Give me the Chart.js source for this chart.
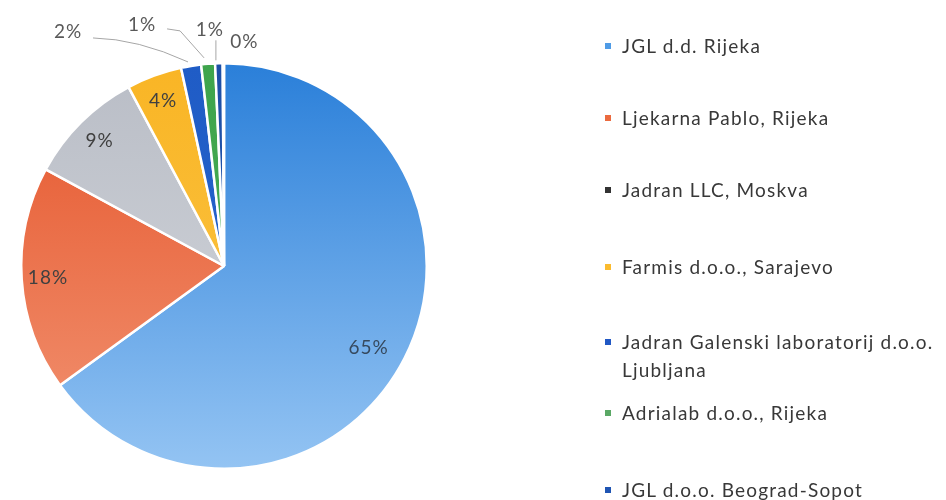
<!DOCTYPE html>
<html>
<head>
<meta charset="utf-8">
<script src="https://cdn.jsdelivr.net/npm/chart.js@4.4.1/dist/chart.umd.min.js"></script>
<style>
  html, body { margin:0; padding:0; background:#ffffff; width:946px; height:500px; overflow:hidden; }
  #cv { position:absolute; left:0; top:0; width:946px; height:500px; }
  #legend { position:absolute; left:0; top:0; width:946px; height:500px; font-family:Lato, "Open Sans", sans-serif; font-size:19px; letter-spacing:1.2px; color:#383838; }
  .lg { position:absolute; left:622px; line-height:28px; white-space:nowrap; }
  .mk { position:absolute; left:-17px; top:11px; width:6px; height:6px; }
</style>
</head>
<body>
<canvas id="cv" width="946" height="500"></canvas>
<div id="legend"></div>
<script>
// ---- data ----
const categories = [
  "JGL d.d. Rijeka",
  "Ljekarna Pablo, Rijeka",
  "Jadran LLC, Moskva",
  "Farmis d.o.o., Sarajevo",
  ["Jadran Galenski laboratorij d.o.o.", "Ljubljana"],
  "Adrialab d.o.o., Rijeka",
  "JGL d.o.o. Beograd-Sopot",
  ""
];
const shares = [65.0, 17.9, 9.3, 4.4, 1.6, 1.1, 0.6, 0.1];

// ---- styles ----
const topColors    = ['#2a7fd9', '#e5542a', '#b9bdc6', '#f9b525', '#1f5cc6', '#3ea44c', '#1c4fa6', '#9e480e'];
const bottomColors = ['#94c4f3', '#f29574', '#d6d9de', '#fbc649', '#2b66cc', '#4caf55', '#2256ad', '#9e480e'];
const legendMarker = ['#4f9be6', '#eb6a3f', '#333333', '#fbbb2e', '#2158c4', '#5aa865', '#1f55b3'];
const legendTops   = [32, 104, 176, 253, 328, 399, 476];
// outside label offsets relative to the arc's outer mid point (index 4..7)
const outsideOffsets = { 4:[-123,-34], 5:[-66,-39], 6:[-9,-33], 7:[21,-21] };

function grad(ctx, area, i) {
  const g = ctx.createLinearGradient(0, area.top, 0, area.bottom);
  g.addColorStop(0, topColors[i]);
  g.addColorStop(1, bottomColors[i]);
  return g;
}

const pctPlugin = {
  id: 'pctLabels',
  afterDatasetsDraw(chart) {
    const ctx = chart.ctx;
    const meta = chart.getDatasetMeta(0);
    const total = shares.reduce((a, b) => a + b, 0);
    ctx.save();
    ctx.font = '19px Lato, "Open Sans", sans-serif';
    try { ctx.letterSpacing = '1px'; } catch (e) {}
    ctx.textAlign = 'center';
    ctx.textBaseline = 'middle';
    meta.data.forEach((arc, i) => {
      const p = arc.getProps(['x', 'y', 'startAngle', 'endAngle', 'outerRadius'], true);
      const mid = (p.startAngle + p.endAngle) / 2;
      const txt = Math.round(shares[i] / total * 100) + '%';
      if (i < 4) {
        const k = i === 0 ? 0.8 : 0.87;
        const lx = p.x + Math.cos(mid) * p.outerRadius * k;
        const ly = p.y + Math.sin(mid) * p.outerRadius * k + (i === 0 ? 8 : 0);
        ctx.fillStyle = i === 0 ? '#36495e' : '#404040';
        ctx.fillText(txt, lx, ly);
      } else {
        const ax = p.x + Math.cos(mid) * p.outerRadius;
        const ay = p.y + Math.sin(mid) * p.outerRadius;
        const off = outsideOffsets[i];
        const lx = ax + off[0], ly = ay + off[1];
        ctx.fillStyle = '#595959';
        ctx.fillText(txt, lx, ly);
        ctx.strokeStyle = '#a6a6a6';
        ctx.lineWidth = 1;
        ctx.beginPath();
        if (i === 4) {
          ctx.moveTo(lx + 25, ly + 6);
          ctx.quadraticCurveTo(lx + 70, ly + 7, ax - 3, ay - 4);
          ctx.stroke();
        } else if (i === 5) {
          ctx.moveTo(lx + 25, ly + 4);
          ctx.lineTo(lx + 38, ly + 6);
          ctx.lineTo(ax - 4, ay - 6);
          ctx.stroke();
        } else if (i === 6) {
          ctx.moveTo(lx + 6, ly + 10);
          ctx.lineTo(lx + 6, ay - 3);
          ctx.stroke();
        }
      }
    });
    ctx.restore();
  }
};

new Chart(document.getElementById('cv'), {
  type: 'pie',
  data: {
    labels: categories.map(c => Array.isArray(c) ? c.join(' ') : c),
    datasets: [{
      data: shares,
      backgroundColor: (c) => {
        const area = c.chart.chartArea;
        if (!area) return topColors[c.dataIndex];
        return grad(c.chart.ctx, area, c.dataIndex);
      },
      borderColor: '#ffffff',
      borderWidth: 2.5
    }]
  },
  options: {
    responsive: false,
    animation: false,
    layout: { padding: { left: 20, top: 62, right: 518, bottom: 30 } },
    plugins: { legend: { display: false }, tooltip: { enabled: false } }
  },
  plugins: [pctPlugin]
});

// legend built from the category list
const lg = document.getElementById('legend');
categories.forEach((c, i) => {
  if (!c || (Array.isArray(c) && !c.length)) return;
  const d = document.createElement('div');
  d.className = 'lg';
  d.style.top = legendTops[i] + 'px';
  const m = document.createElement('span');
  m.className = 'mk';
  m.style.background = legendMarker[i];
  d.appendChild(m);
  const lines = Array.isArray(c) ? c : [c];
  lines.forEach((t, j) => {
    if (j) d.appendChild(document.createElement('br'));
    d.appendChild(document.createTextNode(t));
  });
  lg.appendChild(d);
});
</script>
</body>
</html>
